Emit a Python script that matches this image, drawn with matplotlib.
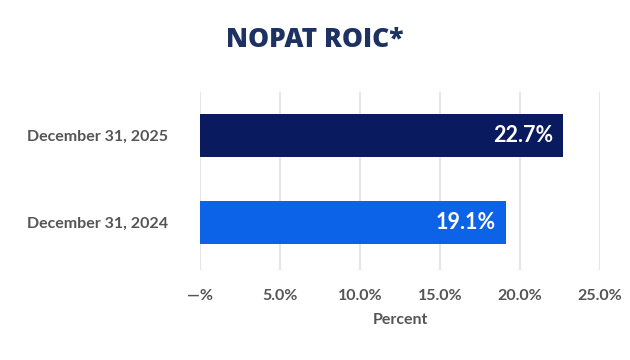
import matplotlib
matplotlib.use("Agg")
import matplotlib.pyplot as plt

categories = ["December 31, 2024", "December 31, 2025"]
values = [19.1, 22.7]
bar_colors = ["#0d63e8", "#0a1a5e"]
xticks = [0, 5, 10, 15, 20, 25]
xtick_labels = ["—%", "5.0%", "10.0%", "15.0%", "20.0%", "25.0%"]
title = "NOPAT ROIC*"
xlabel = "Percent"

plt.rcParams['font.family'] = ['Lato', 'DejaVu Sans']

fig = plt.figure(figsize=(6.3, 3.6), dpi=100)
ax = fig.add_axes([200/630, 1-270/360, 400/630, 178/360])

ypos = list(range(len(categories)))
bars = ax.barh(ypos, values, height=0.5, color=bar_colors, zorder=3)
for y, v in zip(ypos, values):
    ax.text(v - 0.6, y, f"{v:.1f}%", ha="right", va="center", color="white",
            fontsize=15.5, fontweight="bold", zorder=4)

ax.set_xlim(0, 25)
ax.set_ylim(-0.55, 1.5)
ax.set_yticks(ypos)
ax.set_yticklabels(categories, fontsize=11.5, color="#555555", fontweight="bold")
ax.set_xticks(xticks)
ax.set_xticklabels(xtick_labels, fontsize=11.5, color="#555555", fontweight="bold")
ax.tick_params(axis="both", length=0)
ax.tick_params(axis="x", pad=14)
ax.tick_params(axis="y", pad=23)
ax.grid(axis="x", color="#e6e6e6", linewidth=1.5, zorder=0)
for s in ax.spines.values():
    s.set_visible(False)
ax.set_xlabel(xlabel, fontsize=11.5, color="#555555", fontweight="bold", labelpad=7)

fig.text(315/630, 1-40/360, title, ha="center", va="center", fontsize=19,
         fontweight="heavy", color="#1d3262", family=["Open Sans", "DejaVu Sans"])

fig.savefig("out.png", dpi=100, facecolor="white")
